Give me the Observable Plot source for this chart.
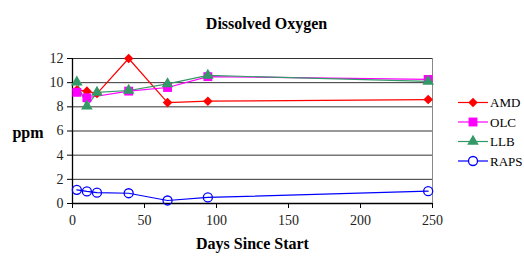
<!DOCTYPE html>
<html><head><meta charset="utf-8">
<script src="https://cdn.jsdelivr.net/npm/d3@7"></script>
<script src="https://cdn.jsdelivr.net/npm/@observablehq/plot@0.6"></script>
<style>body{margin:0;background:#fff;} svg, svg text{font-family:"Liberation Serif","DejaVu Serif",serif !important;}</style>
</head><body><div id="chart"></div>
<script>
const series = ["AMD", "OLC", "LLB", "RAPS"];
const days = [3, 10, 17, 39, 66, 94, 247];
const amd  = [9.4, 9.3, 9.1, 12.0, 8.35, 8.47, 8.6];
const olc  = [9.2, 8.75, null, 9.3, 9.6, 10.5, 10.27];
const llb  = [10.05, 8.05, 9.2, 9.35, 9.9, 10.6, 10.1];
const raps = [1.13, 1.0, 0.9, 0.85, 0.25, 0.5, 1.02];
const yTicks = [0, 2, 4, 6, 8, 10, 12];
const xTicks = [0, 50, 100, 150, 200, 250];
const colors = {AMD: "#FF0000", OLC: "#FF00FF", LLB: "#339966", RAPS: "#0000FF"};
const symbols = {AMD: "diamond2", OLC: "square", LLB: "triangle", RAPS: "circle"};
const vals = {AMD: amd, OLC: olc, LLB: llb, RAPS: raps};
const FONT = "'Liberation Serif','DejaVu Serif',serif";

const data = [];
for (const s of series) days.forEach((d, i) => { if (vals[s][i] != null) data.push({s, day: d, v: vals[s][i]}); });

const marks = [
  Plot.ruleY(yTicks, {stroke: "#333", strokeWidth: 1}),
  Plot.ruleX([250], {stroke: "#888", strokeWidth: 1}),
  Plot.ruleX([0], {stroke: "#000", strokeWidth: 1.3}),
  Plot.ruleY([0], {stroke: "#000", strokeWidth: 1.3}),
  Plot.axisY(yTicks, {tickSize: 5, tickPadding: 4, fontSize: 14, stroke: "#000", fill: "#222", label: null, fontFamily: FONT}),
  Plot.axisX(xTicks, {tickSize: 5, tickPadding: 7, fontSize: 14, stroke: "#000", fill: "#222", label: null, fontFamily: FONT}),
];
for (const s of series) {
  const d = data.filter(r => r.s === s);
  marks.push(Plot.line(d, {x: "day", y: "v", stroke: colors[s], strokeWidth: 1.2}));
}
for (const s of series) {
  const d = data.filter(r => r.s === s);
  const open = s === "RAPS";
  marks.push(Plot.dot(d, {x: "day", y: "v", symbol: symbols[s],
    r: s === "OLC" ? 5 : (s === "RAPS" ? 4.5 : 4.3),
    fill: open ? "none" : colors[s], stroke: colors[s], strokeWidth: open ? 1.3 : 0}));
}
marks.push(Plot.text(["Dissolved Oxygen"], {frameAnchor: "top", dx: 14, dy: -41, fontSize: 16, fontWeight: "bold", fill: "#000", fontFamily: FONT}));
marks.push(Plot.text(["Days Since Start"], {frameAnchor: "bottom", dy: 45, fontSize: 16, fontWeight: "bold", fill: "#000", fontFamily: FONT}));
marks.push(Plot.text(["ppm"], {frameAnchor: "left", textAnchor: "end", dx: -29, dy: 2, fontSize: 16, fontWeight: "bold", fill: "#000", fontFamily: FONT}));

const chart = Plot.plot({
  width: 524, height: 260,
  marginLeft: 72, marginRight: 92, marginTop: 58, marginBottom: 57,
  x: {domain: [0, 250]},
  y: {domain: [0, 12]},
  style: {fontFamily: FONT, background: "#fff"},
  marks
});
document.getElementById("chart").appendChild(chart);

// legend
const svg = d3.select(chart);
const lg = svg.append("g");
series.forEach((s, i) => {
  const y = 102.5 + i * 19.5;
  const g = lg.append("g").attr("transform", `translate(458,${y})`);
  g.append("line").attr("x1", 0).attr("x2", 30).attr("stroke", colors[s]).attr("stroke-width", 1.2);
  const sym = {AMD: d3.symbolDiamond2, OLC: d3.symbolSquare, LLB: d3.symbolTriangle, RAPS: d3.symbolCircle}[s];
  const r = s === "OLC" ? 5 : (s === "RAPS" ? 4.5 : 4.3);
  g.append("path").attr("transform", "translate(15,0)")
    .attr("d", d3.symbol(sym, r * r * Math.PI)())
    .attr("fill", s === "RAPS" ? "#fff" : colors[s])
    .attr("stroke", colors[s]).attr("stroke-width", s === "RAPS" ? 1.3 : 0);
  g.append("text").attr("x", 32).attr("dy", "0.35em").attr("text-anchor", "start")
    .attr("font-size", 13).attr("font-family", FONT).attr("fill", "#000").text(s);
});
</script></body></html>
